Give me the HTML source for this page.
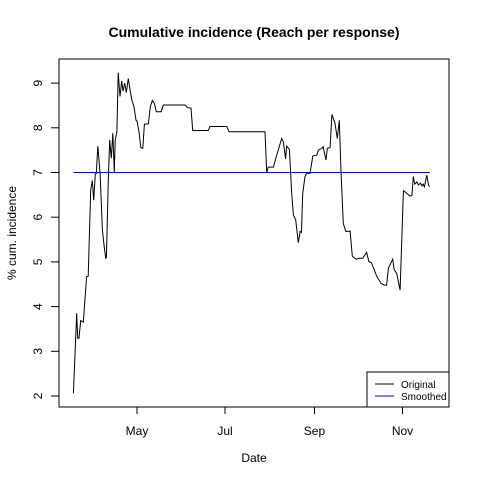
<!DOCTYPE html>
<html><head><meta charset="utf-8"><style>
body{margin:0;background:#fff}
svg text{font-family:"Liberation Sans",Arial,sans-serif}
</style></head><body>
<svg id="chart" width="480" height="480" viewBox="0 0 480 480">
<rect width="480" height="480" fill="#fff"/>
<text x="254" y="37" text-anchor="middle" font-size="14" font-weight="bold">Cumulative incidence (Reach per response)</text>
<text x="254" y="462" text-anchor="middle" font-size="12">Date</text>
<text transform="translate(16,233) rotate(-90)" text-anchor="middle" font-size="12">% cum. incidence</text>
<g id="yaxis"></g>
<g id="xaxis"></g>
<g id="series"></g>
<rect x="59" y="59" width="390" height="348" fill="none" stroke="#000" stroke-width="1"/>
<g>
<rect x="367" y="372" width="82" height="35" fill="#fff" stroke="#000" stroke-width="1"/>
<line x1="375" y1="384" x2="394" y2="384" stroke="#000"/>
<text x="401" y="388" font-size="10">Original</text>
<line x1="375" y1="396" x2="394" y2="396" stroke="#0000ff"/>
<text x="401" y="400" font-size="10">Smoothed</text>
</g>
</svg>
<script>
const yTicks=[2,3,4,5,6,7,8,9];
const xTickLabels=["May","Jul","Sep","Nov"];
const xTickDays=[121,182,244,305];
const days=[76.9,79.2,79.9,80.8,82,83.8,86.1,87.2,88.9,90,91,92.1,92.8,93.8,95.4,97,98.3,99.3,99.8,101.1,102.1,103.2,104.2,105.3,105.9,107.1,108,109.2,110.4,111.3,112.5,113.6,115,116.4,117.5,118.9,120.3,121,122.4,123.6,125,126.1,128.9,130.2,131.6,133,134.4,137.8,139.2,154.3,156.1,158.4,159.6,170.4,171.6,183.2,184.8,209.7,210.9,212,215.5,217.8,221.3,222.4,224,224.7,226.6,228.2,229.4,231,232.8,234,235,235.8,237.4,238.6,240.9,242.8,245.6,246.7,249,250,252,252.9,254.8,256.1,258.2,259.8,261.2,262.4,264,265.7,268.7,270.2,272.8,275,277.4,280.1,281.7,283.5,287.1,290.1,292.4,294,295.2,298.2,299.2,301,303.3,305.6,307.5,310.2,311.5,312.5,313.5,315,316,317.5,318.5,319.3,320.2,321.8,323,323.8];
const values=[2.06,3.85,3.29,3.29,3.69,3.65,4.67,4.68,6.61,6.82,6.38,6.97,6.98,7.59,6.98,5.71,5.34,5.08,5.1,6.83,7.73,7.32,7.88,7.0,7.73,7.91,9.23,8.7,9.05,8.82,9.0,8.79,9.1,8.8,8.62,8.47,8.17,8.15,7.91,7.56,7.54,8.08,8.09,8.47,8.61,8.55,8.36,8.36,8.51,8.51,8.45,8.44,7.94,7.94,8.03,8.03,7.91,7.91,7.0,7.12,7.12,7.39,7.76,7.69,7.3,7.59,7.52,6.53,6.05,5.94,5.43,5.68,5.66,6.53,6.91,6.98,6.98,7.37,7.39,7.5,7.54,7.58,7.28,7.54,7.56,8.3,8.1,7.76,8.17,7.02,5.86,5.68,5.69,5.13,5.06,5.08,5.08,5.21,5.01,4.98,4.68,4.52,4.48,4.48,4.86,5.06,4.83,4.74,4.37,6.59,6.55,6.47,6.49,6.91,6.74,6.79,6.72,6.76,6.7,6.74,6.68,6.94,6.72,6.68];
const smoothedValue=[7.0,7.0];
const smoothedDays=[76.9,323.8];
const NS="http://www.w3.org/2000/svg";
function xs(d){return 137+(d-121)*1.443;}
function ys(v){return 396-(v-2)*44.7;}
const yaxis=document.getElementById('yaxis');
yTicks.forEach(t=>{
 const l=document.createElementNS(NS,'line');
 l.setAttribute('x1',51);l.setAttribute('x2',59);l.setAttribute('y1',ys(t));l.setAttribute('y2',ys(t));l.setAttribute('stroke','#000');
 
 
 yaxis.appendChild(l);
 const tx=document.createElementNS(NS,'text');
 tx.setAttribute('transform','translate(42,'+ys(t)+') rotate(-90)');tx.setAttribute('text-anchor','middle');tx.setAttribute('font-size','12');tx.textContent=t;
 
 
 yaxis.appendChild(tx);
});
const xaxis=document.getElementById('xaxis');
xTickDays.forEach((d,i)=>{
 const l=document.createElementNS(NS,'line');
 l.setAttribute('x1',xs(d));l.setAttribute('x2',xs(d));l.setAttribute('y1',407);l.setAttribute('y2',414);l.setAttribute('stroke','#000');
 
 
 xaxis.appendChild(l);
 const tx=document.createElementNS(NS,'text');
 tx.setAttribute('x',xs(d));tx.setAttribute('y',435);tx.setAttribute('text-anchor','middle');tx.setAttribute('font-size','12');tx.textContent=xTickLabels[i];
 
 
 xaxis.appendChild(tx);
});
const g=document.getElementById('series');
const orig=document.createElementNS(NS,'polyline');
orig.setAttribute('points',days.map((d,i)=>xs(d).toFixed(1)+','+ys(values[i]).toFixed(1)).join(' '));
orig.setAttribute('fill','none');orig.setAttribute('stroke','#000');orig.setAttribute('stroke-width','1');


g.appendChild(orig);
const sm=document.createElementNS(NS,'polyline');
sm.setAttribute('points',smoothedDays.map((d,i)=>xs(d).toFixed(1)+','+ys(smoothedValue[i]).toFixed(1)).join(' '));
sm.setAttribute('fill','none');sm.setAttribute('stroke','#0000ff');sm.setAttribute('stroke-width','1');


g.appendChild(sm);
</script>
</body></html>
